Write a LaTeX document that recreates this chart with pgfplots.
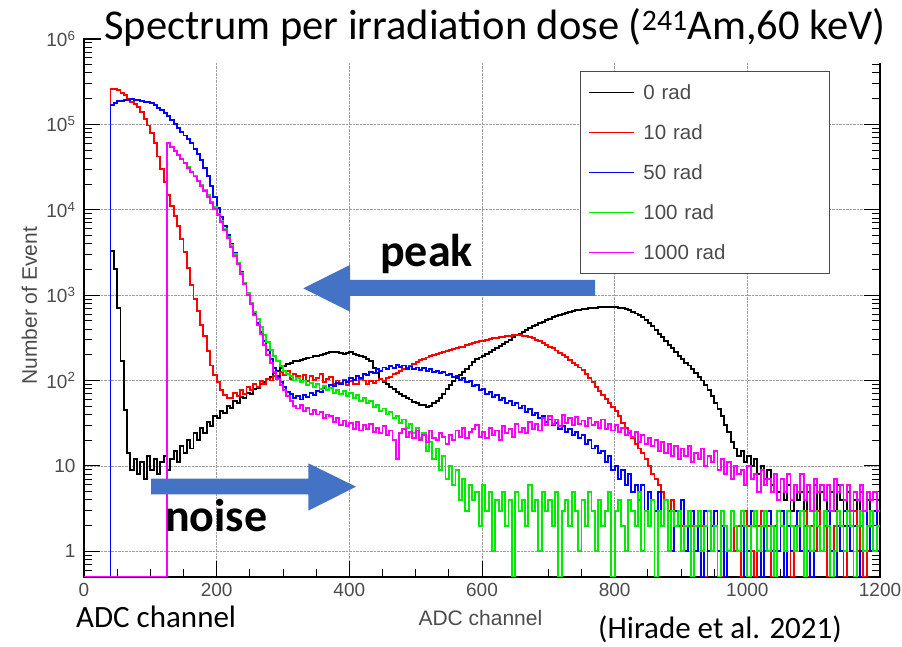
\documentclass[border=0pt]{standalone}
\usepackage{fontspec}
\setmainfont{Carlito}
\newfontfamily\arial{Liberation Sans}
\usepackage{pgfplots}
\usepackage{pgfplotstable}
\pgfplotsset{compat=1.18}
\definecolor{lblgray}{RGB}{75,75,75}
\definecolor{arrowblue}{RGB}{68,114,196}
\definecolor{rootgreen}{RGB}{0,235,0}
\definecolor{rootmag}{RGB}{255,0,255}

\pgfplotstableread{
x r0 r10 r50 r100 r1000
0 0.5 0.5 0.5 0.5 0.5
10 0.5 0.5 0.5 0.5 0.5
20 0.5 0.5 0.5 0.5 0.5
30 0.5 0.5 0.5 0.5 0.5
40 3300 260000 170000 0.5 0.5
45 2000 262000 180000 0.5 0.5
50 700 250000 186000 0.5 0.5
55 170 235000 190000 0.5 0.5
60 45 220000 193000 0.5 0.5
65 14 200000 195000 0.5 0.5
70 9 185000 196000 0.5 0.5
75 12 175000 195000 0.5 0.5
80 8 160000 193000 0.5 0.5
85 11 140000 190000 0.5 0.5
90 7 115000 185000 0.5 0.5
95 13 97000 181000 0.5 0.5
100 9 80000 176000 0.5 0.5
105 12 60000 167000 0.5 0.5
110 8 42000 157000 0.5 0.5
115 11 30000 147000 0.5 0.5
120 13 21000 136000 0.5 0.5
125 9 15000 124000 60000 60000
130 12 11000 112000 54000 54000
135 15 8500 101000 49000 49000
140 11 6500 90000 44000 44000
145 17 4600 82000 39500 39500
150 14 3200 74000 35000 35000
155 20 2100 67000 31500 31000
160 16 1300 60000 28000 27500
165 24 900 52000 25000 24500
170 20 650 45000 22000 21500
175 28 450 38000 19500 19000
180 24 330 31000 17000 16500
185 33 220 25000 14800 14200
190 29 150 19000 12500 12000
195 38 115 14000 10700 10300
200 36 95 10500 9000 8700
205 44 78 8200 7400 7200
210 42 68 6500 6000 5800
215 50 62 5100 4800 4700
220 48 63 4000 3900 3700
225 58 72 3100 3000 2900
230 55 66 2400 2400 2300
235 64 78 1850 1800 1750
240 62 70 1400 1400 1350
245 72 84 1050 1050 1000
250 70 78 800 820 780
255 80 90 600 640 590
260 82 85 470 520 450
265 92 98 370 420 350
270 95 92 290 340 260
275 105 104 230 280 200
280 110 100 180 230 160
285 122 112 140 195 125
290 128 108 112 170 105
295 140 125 95 148 88
300 148 115 85 130 78
305 155 128 74 118 66
310 160 105 70 112 58
315 168 120 62 100 50
320 170 112 66 108 47
325 176 100 60 96 52
330 180 115 68 100 44
335 185 98 64 88 48
340 186 112 72 94 41
345 192 102 68 84 45
350 195 108 76 90 40
355 200 118 74 80 43
360 204 95 82 86 36
365 210 104 78 78 40
370 214 110 88 82 38
375 218 92 86 72 33
380 216 100 93 78 36
385 210 94 90 70 30
390 205 102 100 75 34
395 212 88 97 66 29
400 215 98 106 72 32
405 205 92 102 62 27
410 200 90 112 68 33
415 196 104 108 58 26
420 190 100 120 63 30
425 180 92 115 54 27
430 168 98 126 58 31
435 140 94 122 49 25
440 122 100 135 52 28
445 105 105 130 44 24
450 95 98 142 47 29
455 90 108 138 40 23
460 85 110 148 43 26
465 80 118 140 36 20
470 74 122 152 38 12
475 70 128 144 32 24
480 66 135 150 35 27
485 62 142 138 28 22
490 60 150 146 31 25
495 56 158 136 24 21
500 55 165 142 28 26
505 52 172 134 21 20
510 52 180 140 24 23
515 49 186 130 15 19
520 50 195 135 19 26
525 54 198 126 12 21
530 57 205 130 16 20
535 63 210 122 9 24
540 70 215 126 13 22
545 80 222 116 7 18
550 88 228 120 10 23
555 98 235 110 6 20
560 108 240 113 9 26
565 116 245 102 4 22
570 125 250 106 7 28
575 138 260 96 3 21
580 150 268 98 6 25
585 165 275 86 4 27
590 178 282 88 5 30
595 186 288 78 2 22
600 192 292 80 6 25
605 205 300 70 3 21
610 215 305 74 5 28
615 228 312 64 1 23
620 240 315 67 4 26
625 256 322 59 3 20
630 270 325 62 5 29
635 285 330 54 2 24
640 300 335 58 4 27
645 320 338 51 0.5 22
650 340 340 55 5 31
655 355 338 48 3 25
660 370 335 51 4 28
665 390 330 43 2 24
670 410 322 46 6 33
675 430 312 39 3 27
680 450 300 42 4 31
685 470 288 36 1 26
690 490 276 38 5 36
695 510 262 33 3 30
700 530 250 35 4 38
705 550 238 30 2 31
710 570 225 32 5 35
715 590 212 27 0.5 29
720 605 200 29 3 39
725 622 188 25 4 32
730 640 175 27 2 36
735 652 162 23 5 30
740 665 152 25 3 37
745 678 142 21 1 31
750 690 132 23 4 34
755 695 120 18 2 29
760 700 106 20 5 36
765 706 95 16 3 30
770 712 85 17 1 33
775 718 76 14 4 28
780 722 68 15 2 35
785 726 61 11 3 27
790 728 55 13 5 31
795 726 49 9 0.5 26
800 722 44 10 3 30
805 712 38 7 4 25
810 700 32 9 2 28
815 682 28 6 1 23
820 662 24 8 4 26
825 638 21 5 3 22
830 610 18 6 2 25
835 582 16 4 5 19
840 550 14 6 1 23
845 510 12 3 3 18
850 470 10 5 2 21
855 430 8 4 4 17
860 390 7 3 0.5 20
865 355 6 5 3 15
870 320 5 2 2 19
875 290 4 4 4 14
880 262 3 3 1 18
885 238 4 1 3 13
890 215 2 3 2 17
895 196 3 2 3 12
900 178 2 4 1 16
905 162 1 1 2 13
910 150 3 2 3 17
915 135 2 3 0.5 11
920 122 1 1 2 14
925 110 3 2 3 12
930 100 2 0.5 1 16
935 88 0.5 3 2 10
940 78 1 1 3 13
945 66 2 2 1 11
950 55 3 3 2 15
955 46 1 1 0.5 9
960 38 0.5 2 3 12
965 30 2 0.5 2 8
970 25 1 1 1 11
975 19 3 3 3 7
980 16 1 2 2 10
985 13 2 1 1 8
990 15 0.5 2 3 9
995 11 3 0.5 2 6
1000 13 2 1 0.5 10
1005 10 1 3 2 7
1010 12 0.5 2 3 8
1015 8 2 1 1 5
1020 10 3 0.5 2 9
1025 7 1 2 3 6
1030 9 2 3 1 7
1035 6 0.5 1 2 5
1040 8 1 2 0.5 8
1045 5 3 1 3 4
1050 7 2 3 2 7
1055 4 1 0.5 1 5
1060 6 3 2 3 8
1065 3 0.5 1 2 4
1070 6 1 2 1 6
1075 4 2 3 2 5
1080 5 1 1 3 8
1085 2 3 2 0.5 4
1090 5 0.5 1 2 6
1095 3 2 0.5 1 3
1100 6 1 3 3 7
1105 3 3 2 2 5
1110 5 1 1 1 6
1115 4 2 2 3 4
1120 2 0.5 3 2 6
1125 5 1 1 0.5 3
1130 3 2 0.5 1 7
1135 6 3 2 3 5
1140 4 1 1 2 6
1145 2 0.5 3 1 4
1150 5 2 2 3 6
1155 3 1 1 2 3
1160 4 3 2 0.5 5
1165 2 1 0.5 2 4
1170 5 2 1 3 6
1175 3 0.5 3 1 3
1180 4 1 2 2 5
1185 2 2 1 3 4
1190 3 1 3 1 5
1195 4 2 1 2 3
1200 4 2 1 2 3
}\spectra

\begin{document}
\begin{tikzpicture}
\useasboundingbox (0pt,0pt) rectangle (902pt,647pt);
\begin{axis}[
  at={(84pt,70pt)}, anchor=south west,
  scale only axis, width=796pt, height=538pt,
  xmin=0, xmax=1200, ymode=log, ymin=0.5, ymax=1000000,
  axis line style={black, line width=1.1pt},
  tick style={black, line width=1pt},
  tick align=inside,
  major tick length=16pt, minor tick length=8pt,
  xtick={0,200,400,600,800,1000,1200},
  xticklabels={0,200,400,600,800,1000,1200},
  minor xtick={50,100,150,250,300,350,450,500,550,650,700,750,850,900,950,1050,1100,1150},
  ytick={1,10,100,1000,10000,100000,1000000},
  yticklabels={1,10,10\textsuperscript{2},10\textsuperscript{3},10\textsuperscript{4},10\textsuperscript{5},10\textsuperscript{6}},
  minor ytick={0.6,0.7,0.8,0.9,2,3,4,5,6,7,8,9,20,30,40,50,60,70,80,90,200,300,400,500,600,700,800,900,2000,3000,4000,5000,6000,7000,8000,9000,20000,30000,40000,50000,60000,70000,80000,90000,200000,300000,400000,500000,600000,700000,800000,900000},
  xmajorgrids, ymajorgrids,
  major grid style={densely dotted, gray!75, line width=0.8pt},
  ticklabel style={font=\arial\fontsize{19}{19}\selectfont, text=lblgray},
  xticklabel style={yshift=-3pt},
  yticklabel style={xshift=-5pt},
  xlabel={ADC channel},
  xlabel style={at={(axis description cs:0.498,0)}, anchor=base, yshift=-49pt, font=\arial\fontsize{21}{21}\selectfont, text=lblgray},
  ylabel={Number of Event},
  ylabel style={at={(axis description cs:-0.0685,0.504)}, anchor=center, font=\arial\fontsize{21}{21}\selectfont, text=lblgray},
  legend cell align=left,
  legend style={at={(rel axis cs:0.623,0.9405)}, anchor=north west,
    draw=lblgray, line width=1pt, fill=white,
    font=\arial\fontsize{20.5}{20.5}\selectfont, text=lblgray,
    inner xsep=8pt, inner ysep=12pt, row sep=22pt, column sep=9pt,
    nodes={inner sep=0pt, text height=16pt, text depth=2pt, text width=178pt, align=left}},
  legend image code/.code={\draw[#1, line width=1pt] (0pt,0pt) -- (45pt,0pt);},
]
\addplot[const plot, black, line width=1.9pt] table[x=x, y=r0] {\spectra};
\addplot[const plot, red, line width=1.9pt] table[x=x, y=r10] {\spectra};
\addplot[const plot, blue, line width=1.9pt] table[x=x, y=r50] {\spectra};
\addplot[const plot, rootgreen, line width=1.9pt] table[x=x, y=r100] {\spectra};
\addplot[const plot, rootmag, line width=1.9pt] table[x=x, y=r1000] {\spectra};
\legend{0 rad, 10 rad, 50 rad, 100 rad, 1000 rad}
\end{axis}
% white band that hides the top of the frame behind the title
\fill[white] (101pt,584pt) rectangle (902pt,647pt);
\node[anchor=base west, inner sep=0pt, font=\fontsize{42.5}{42.5}\selectfont] at (104pt,607pt) {Spectrum per irradiation dose (\textsuperscript{241}Am,60 keV)};
% arrows
\fill[arrowblue] (303.3pt,358.7pt) -- (350pt,382pt) -- (350pt,367pt) -- (595pt,367pt) -- (595pt,351pt) -- (350pt,351pt) -- (350pt,335.3pt) -- cycle;
\fill[arrowblue] (356pt,160.3pt) -- (308.3pt,183.7pt) -- (308.3pt,168.3pt) -- (151pt,168.3pt) -- (151pt,152.7pt) -- (308.3pt,152.7pt) -- (308.3pt,136.3pt) -- cycle;
\node[anchor=base west, inner sep=0pt, font=\bfseries\fontsize{46}{46}\selectfont] at (380pt,380.3pt) {peak};
\node[anchor=base west, inner sep=0pt, font=\bfseries\fontsize{46}{46}\selectfont] at (165pt,115.3pt) {noise};
\node[anchor=base west, inner sep=0pt, font=\fontsize{31}{31}\selectfont] at (76pt,19pt) {ADC channel};
\node[anchor=base west, inner sep=0pt, font=\fontsize{31}{31}\selectfont] at (598pt,8pt) {(Hirade et al. 2021)};
\end{tikzpicture}
\end{document}
